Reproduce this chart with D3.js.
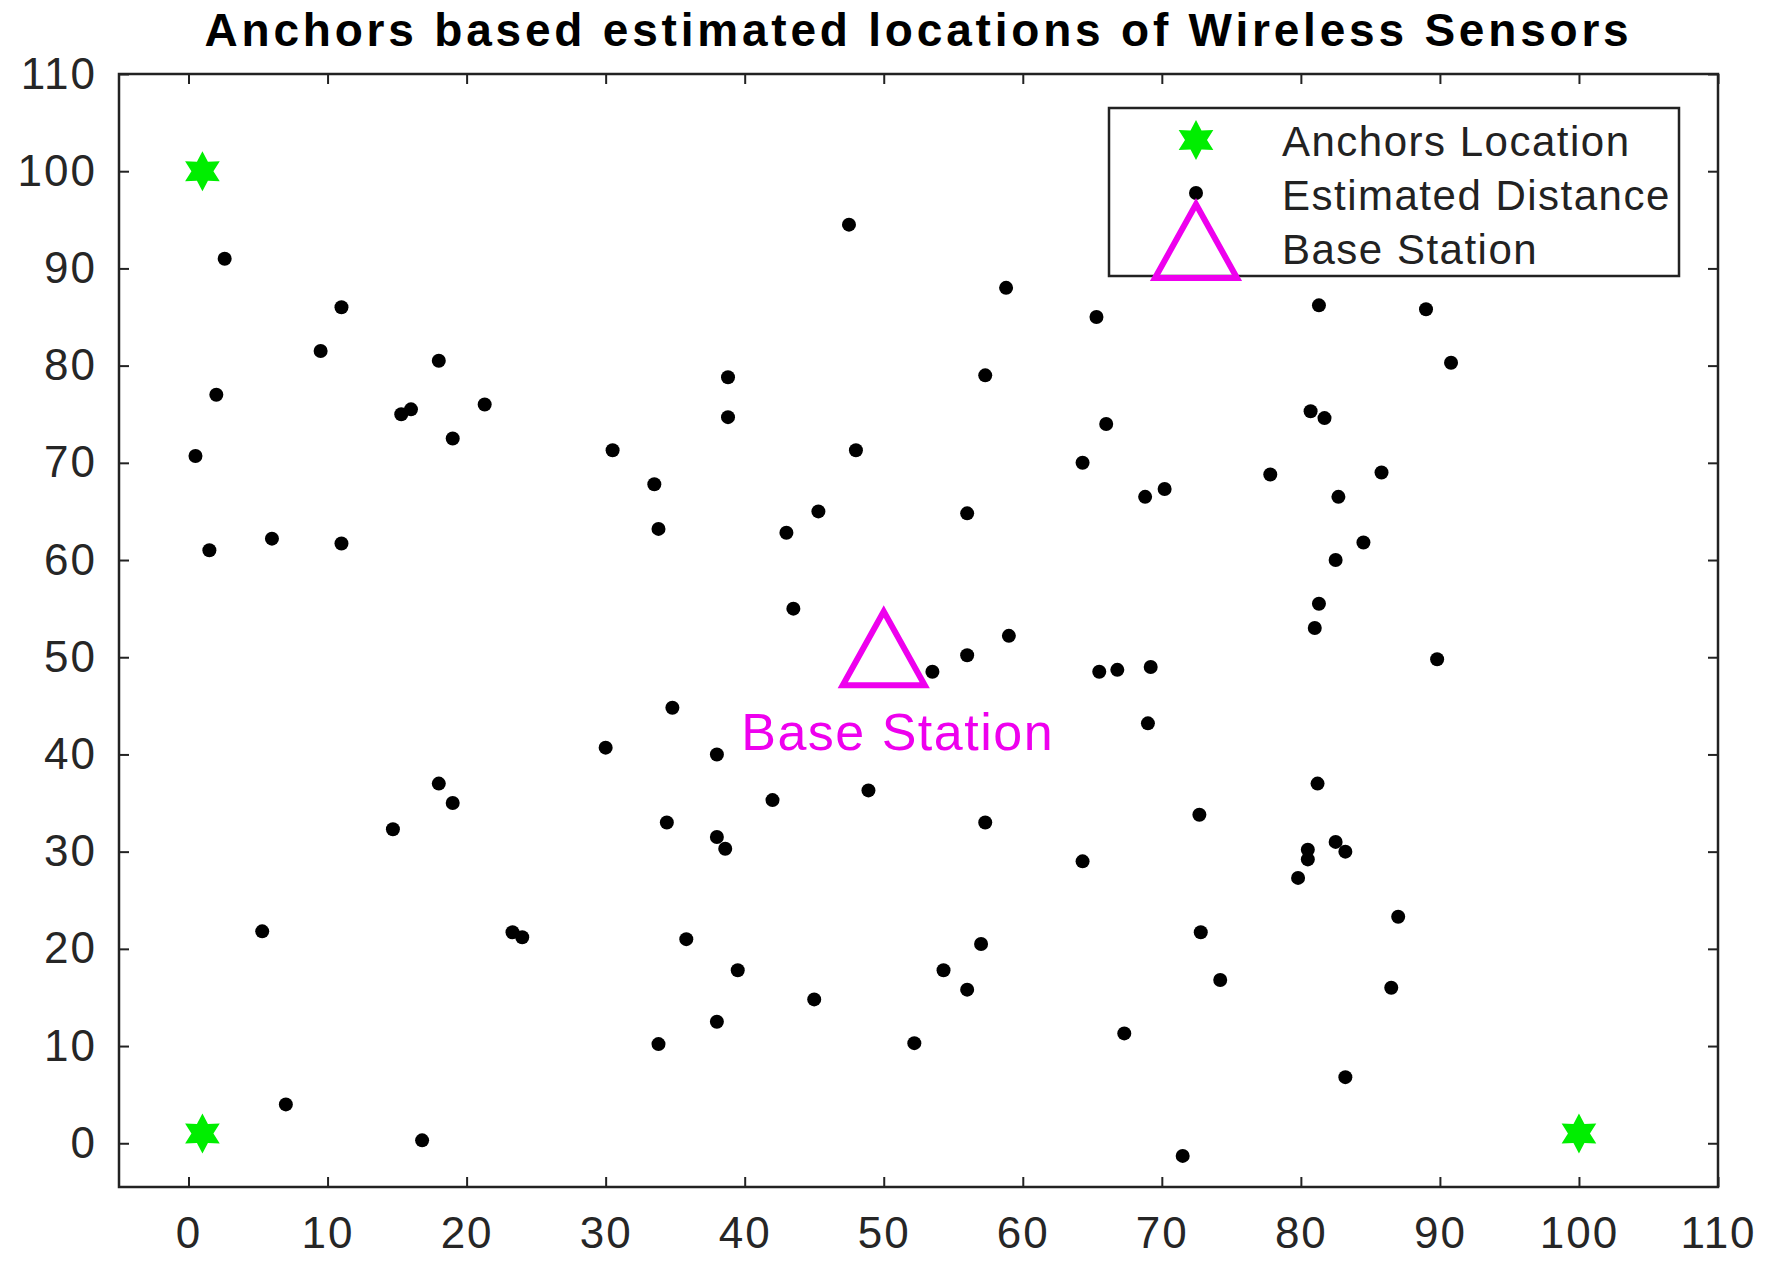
<!DOCTYPE html>
<html><head><meta charset="utf-8">
<script src="https://cdn.jsdelivr.net/npm/d3@7"></script>
<style>body{margin:0;background:#fff}svg{display:block}</style>
</head><body>
<svg id="c" width="1769" height="1281"></svg>
<script>
const sensorX=[2.6,11,9.5,18,2,0.5,15.3,16,21.3,19,1.5,6,11,
47.5,30.5,33.5,33.8,38.8,38.8,48,45.3,43,43.5,
58.8,65.3,57.3,66,64.3,56,68.8,70.2,59,56,53.5,65.5,66.8,69.2,69,
81.3,89,90.8,80.7,81.7,77.8,85.8,82.7,84.5,82.5,81.3,81,89.8,
34.8,30,38,18,19,14.7,34.4,38,38.6,42,48.9,57.3,
5.3,23.3,24,35.8,39.5,45,38,33.8,52.2,54.3,56,57,7,16.8,
64.3,72.7,72.8,74.2,67.3,71.5,81.2,80.5,80.5,79.8,82.5,83.2,87,86.5,83.2];
const sensorY=[91,86,81.5,80.5,77,70.7,75,75.5,76,72.5,61,62.2,61.7,
94.5,71.3,67.8,63.2,78.8,74.7,71.3,65,62.8,55,
88,85,79,74,70,64.8,66.5,67.3,52.2,50.2,48.5,48.5,48.7,49,43.2,
86.2,85.8,80.3,75.3,74.6,68.8,69,66.5,61.8,60,55.5,53,49.8,
44.8,40.7,40,37,35,32.3,33,31.5,30.3,35.3,36.3,33,
21.8,21.7,21.2,21,17.8,14.8,12.5,10.2,10.3,17.8,15.8,20.5,4,0.3,
29,33.8,21.7,16.8,11.3,-1.3,37,30.2,29.2,27.3,31,30,23.3,16,6.8];
const anchorX=[1,1,100], anchorY=[100,1,1];
const baseX=[50], baseY=[50];
const tickVals=[0,10,20,30,40,50,60,70,80,90,100,110];
const titleText="Anchors based estimated locations of Wireless Sensors";
const legendLabels=["Anchors Location","Estimated Distance","Base Station"];

const svg=d3.select("#c");
const L=119,R=1718,T=74,B=1187;
const x=d3.scaleLinear().domain([-5,110]).range([L,R]);
const y=d3.scaleLinear().domain([-4.5,110]).range([B,T]);
const font="'Liberation Sans',Arial,sans-serif";
const g=svg.append("g");

const ax=d3.axisBottom(x).tickValues(tickVals).tickSize(-10).tickPadding(30).tickFormat(d3.format("d"));
const ay=d3.axisLeft(y).tickValues(tickVals).tickSize(-10).tickPadding(22).tickFormat(d3.format("d"));
const gx=g.append("g").attr("transform",`translate(0,${B})`).call(ax);
const gy=g.append("g").attr("transform",`translate(${L},0)`).call(ay);
g.append("g").attr("transform",`translate(0,${T})`).call(d3.axisTop(x).tickValues(tickVals).tickSize(-10).tickFormat(""));
g.append("g").attr("transform",`translate(${R},0)`).call(d3.axisRight(y).tickValues(tickVals).tickSize(-10).tickFormat(""));
g.selectAll(".domain").remove();
g.selectAll(".tick line").attr("stroke","#222").attr("stroke-width",2);
[gx,gy].forEach(a=>a.selectAll("text").attr("font-family",font).attr("font-size",44).attr("letter-spacing",2).attr("fill","#262626"));
g.append("rect").attr("x",L).attr("y",T).attr("width",R-L).attr("height",B-T).attr("fill","none").attr("stroke","#222").attr("stroke-width",2.5);

svg.append("text").attr("x",(L+R)/2).attr("y",46).attr("text-anchor","middle").attr("font-family",font).attr("font-weight","bold").attr("font-size",46).attr("letter-spacing",3.8).text(titleText);

function hexstar(cx,cy,r){
  const pts=[];for(let i=0;i<12;i++){const a=Math.PI/6*i-Math.PI/2;const rr=i%2?r*0.55:r;pts.push([cx+rr*Math.cos(a),cy+rr*Math.sin(a)]);}
  return "M"+pts.join("L")+"Z";}
function tri(cx,cy,s){const h=s*0.9;return `M${cx},${cy-h*0.62}L${cx+s/2},${cy+h*0.38}L${cx-s/2},${cy+h*0.38}Z`;}

svg.append("g").selectAll("circle").data(sensorX.map((v,i)=>[v,sensorY[i]])).join("circle")
 .attr("cx",d=>x(d[0])).attr("cy",d=>y(d[1])).attr("r",7).attr("fill","#000");
svg.append("g").selectAll("path").data(anchorX.map((v,i)=>[v,anchorY[i]])).join("path")
 .attr("d",d=>hexstar(x(d[0]),y(d[1]),20)).attr("fill","#00ee00");
svg.append("g").selectAll("path").data(baseX.map((v,i)=>[v,baseY[i]])).join("path")
 .attr("d",d=>tri(x(d[0]),y(d[1]),82)).attr("fill","none").attr("stroke","#ee00ee").attr("stroke-width",6);
svg.append("text").attr("x",x(51)).attr("y",y(40.5)).attr("text-anchor","middle").attr("font-family",font).attr("font-size",52).attr("letter-spacing",1.5).attr("fill","#ee00ee").text("Base Station");

const lg=svg.append("g");
lg.append("rect").attr("x",1109).attr("y",108).attr("width",570).attr("height",168).attr("fill","#fff").attr("stroke","#222").attr("stroke-width",2.5);
lg.append("path").attr("d",hexstar(1196,140,20)).attr("fill","#00ee00");
lg.append("circle").attr("cx",1196).attr("cy",193).attr("r",7).attr("fill","#000");
lg.append("path").attr("d",tri(1196,250,82)).attr("fill","none").attr("stroke","#ee00ee").attr("stroke-width",6);
[141,195,249].forEach((yy,i)=>lg.append("text").attr("x",1282).attr("y",yy).attr("dy","0.35em").attr("font-family",font).attr("font-size",42).attr("letter-spacing",1.5).attr("fill","#222").text(legendLabels[i]));
</script></body></html>
